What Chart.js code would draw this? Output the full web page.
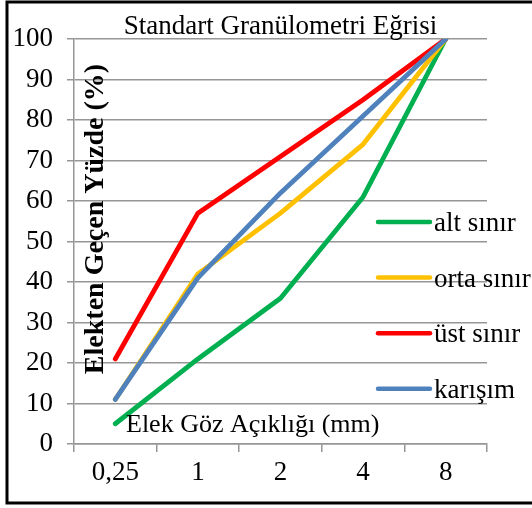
<!DOCTYPE html>
<html>
<head>
<meta charset="utf-8">
<script src="https://cdn.jsdelivr.net/npm/chart.js@4/dist/chart.umd.min.js"></script>
<style>
  body { margin: 0; background: #fff; }
</style>
</head>
<body>
<canvas id="granChart" width="532" height="508"></canvas>
<script>
var categories = ['0,25', '1', '2', '4', '8'];
var seriesNames = ['alt sınır', 'orta sınır', 'üst sınır', 'karışım'];
var altSinir = [5, 21, 36, 61, 100];
var ortaSinir = [11, 42, 57, 74, 100];
var ustSinir = [21, 57, 71, 85, 100];
var karisim = [11, 41, 62, 81, 100];
var seriesColors = ['#00B050', '#FFC000', '#FF0000', '#4F81BD'];
var titleText = 'Standart Granülometri Eğrisi';
var yTitle = 'Elekten Geçen Yüzde (%)';
var xTitle = 'Elek Göz Açıklığı (mm)';

var serif = '"Liberation Serif", "Times New Roman", serif';
var gridColor = '#969696';

// frame, titles and legend drawn inside the plot like the original sheet
var decorations = {
    id: 'decorations',
    afterDraw: function (chart) {
        var ctx = chart.ctx;
        var area = chart.chartArea;
        ctx.save();
        ctx.strokeStyle = '#000';
        ctx.lineWidth = 3;
        ctx.strokeRect(7, 2, 540, 501);

        ctx.fillStyle = '#000';
        ctx.font = '27px ' + serif;
        ctx.textAlign = 'center';
        ctx.textBaseline = 'alphabetic';
        ctx.fillText(titleText, (area.left + area.right) / 2, 34);

        ctx.font = '26px ' + serif;
        ctx.textAlign = 'left';
        ctx.fillText(xTitle, 126, 432);

        ctx.save();
        ctx.translate(96, 219);
        ctx.rotate(-Math.PI / 2);
        ctx.font = 'bold 28px ' + serif;
        ctx.textAlign = 'center';
        ctx.textBaseline = 'middle';
        ctx.fillText(yTitle, 0, 0);
        ctx.restore();

        ctx.font = '27px ' + serif;
        ctx.textAlign = 'left';
        ctx.lineCap = 'round';
        ctx.lineWidth = 4.5;
        for (var i = 0; i < seriesNames.length; i++) {
            var y = 222 + i * 55.6;
            ctx.strokeStyle = seriesColors[i];
            ctx.beginPath();
            ctx.moveTo(378, y);
            ctx.lineTo(430, y);
            ctx.stroke();
            ctx.fillText(seriesNames[i], 434, y + 9);
        }
        ctx.restore();
    }
};

function line(label, data, color, order) {
    return {
        label: label,
        data: data,
        borderColor: color,
        backgroundColor: color,
        borderWidth: 4.8,
        borderCapStyle: 'round',
        borderJoinStyle: 'round',
        pointRadius: 0,
        tension: 0,
        fill: false,
        order: order
    };
}

var ctx = document.getElementById('granChart').getContext('2d');
var granChart = new Chart(ctx, {
    type: 'line',
    data: {
        labels: categories,
        datasets: [
            line(seriesNames[0], altSinir, seriesColors[0], 4),
            line(seriesNames[1], ortaSinir, seriesColors[1], 3),
            line(seriesNames[2], ustSinir, seriesColors[2], 2),
            line(seriesNames[3], karisim, seriesColors[3], 1)
        ]
    },
    options: {
        responsive: false,
        devicePixelRatio: 1,
        animation: false,
        layout: {
            padding: { top: 39, right: 45, left: 0, bottom: 0 }
        },
        plugins: {
            legend: { display: false },
            title: { display: false },
            tooltip: { enabled: false }
        },
        scales: {
            x: {
                offset: true,
                afterFit: function (s) { s.height = 64; },
                grid: {
                    offset: true,
                    drawOnChartArea: false,
                    color: gridColor,
                    lineWidth: 1.5,
                    tickLength: 8
                },
                border: { color: gridColor, width: 1.5 },
                ticks: {
                    color: '#000',
                    font: { family: serif, size: 27 },
                    padding: 5,
                    maxRotation: 0
                }
            },
            y: {
                min: 0,
                max: 100,
                afterFit: function (s) { s.width = 74; },
                grid: {
                    color: gridColor,
                    lineWidth: 1.5,
                    tickLength: 7
                },
                border: { color: gridColor, width: 1.5 },
                ticks: {
                    stepSize: 10,
                    color: '#000',
                    font: { family: serif, size: 27 },
                    padding: 14
                }
            }
        }
    },
    plugins: [decorations]
});
</script>
</body>
</html>
